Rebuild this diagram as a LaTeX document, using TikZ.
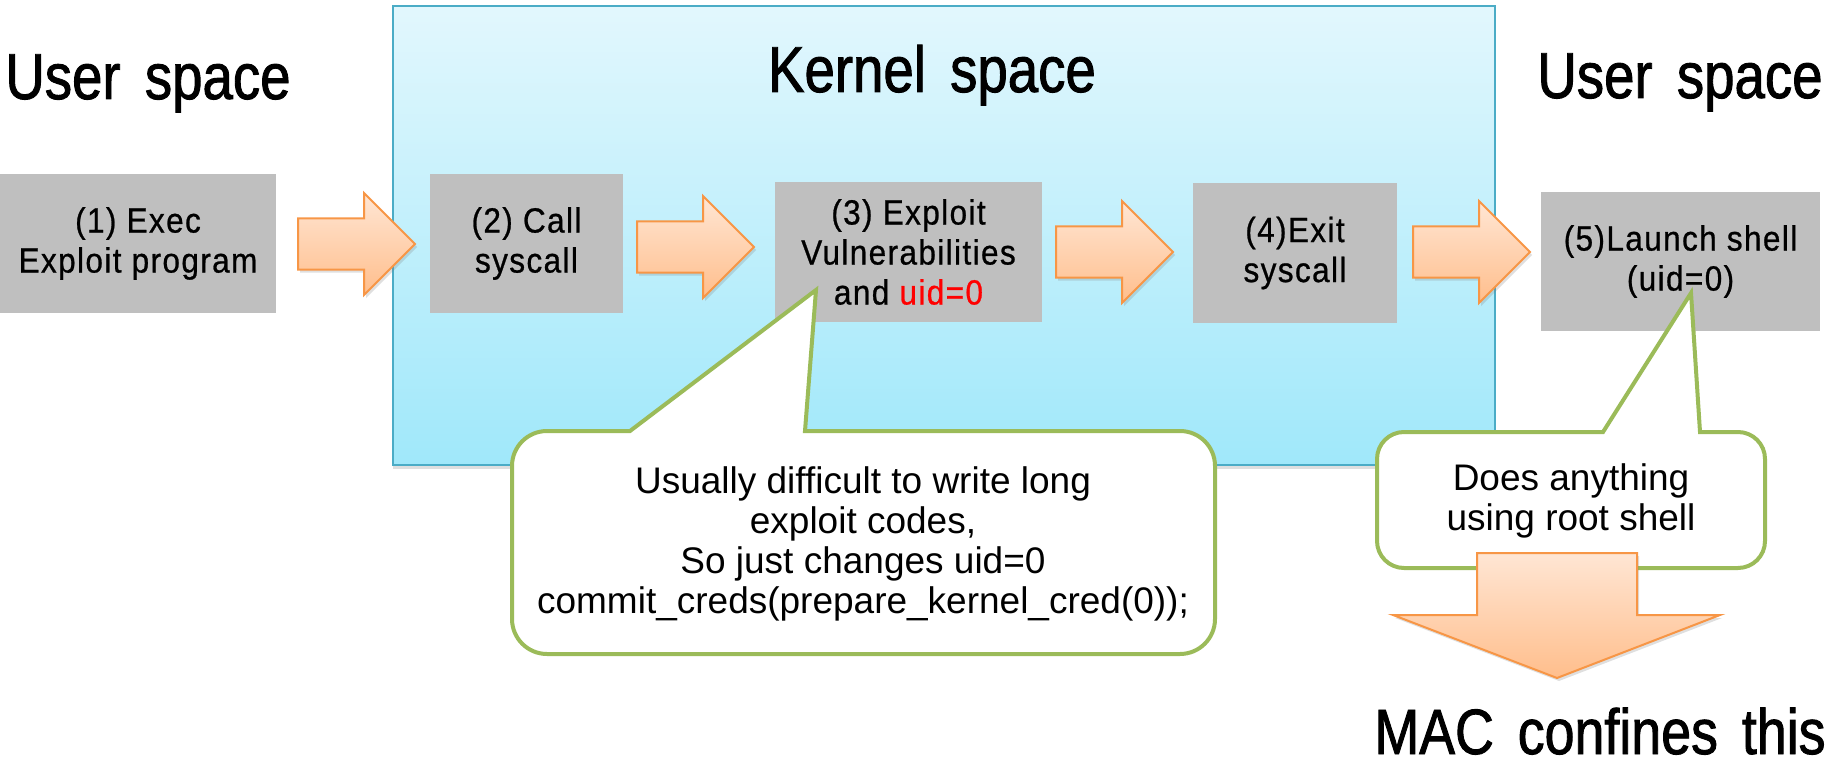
\documentclass[tikz,border=0pt]{standalone}
\usepackage{fontspec}
\setmainfont{Liberation Sans}
\newfontfamily\titlefont[FakeStretch=0.84,WordSpace=1.6,FakeBold=1.4]{Liberation Sans}
\newfontfamily\stepfont[FakeStretch=0.9,LetterSpace=4,FakeBold=0.7]{Liberation Sans}
\usetikzlibrary{shadows}

\definecolor{boxgray}{RGB}{191,191,191}
\definecolor{kerntop}{RGB}{226,247,253}
\definecolor{kernbot}{RGB}{160,232,250}
\definecolor{kernline}{RGB}{75,172,198}
\definecolor{arrline}{RGB}{247,150,70}
\definecolor{arrtop}{RGB}{255,230,212}
\definecolor{arrbot}{RGB}{255,190,140}
\definecolor{callline}{RGB}{155,187,89}
\definecolor{hotred}{RGB}{255,0,0}

% right-pointing block arrow: tail x, tip x, tip y
\newcommand\rightblock[3]{%
  \draw[blockarr] (#1,#3-25.5) -- (#2-51,#3-25.5) -- (#2-51,#3-51) -- (#2,#3)
    -- (#2-51,#3+51) -- (#2-51,#3+25.5) -- (#1,#3+25.5) -- cycle;}

% speech bubble: left, right, top, bottom, corner radius, pointer base left/right, tip coordinate
\newcommand\bubble[8]{%
  \draw[bubbleline] (#6,#3) -- (#8) -- (#7,#3) -- ({#2-#5},#3)
    arc[start angle=90,end angle=0,radius=#5pt] -- (#2,{#4-#5})
    arc[start angle=0,end angle=-90,radius=#5pt] -- ({#1+#5},#4)
    arc[start angle=-90,end angle=-180,radius=#5pt] -- (#1,{#3+#5})
    arc[start angle=180,end angle=90,radius=#5pt] -- cycle;}

\begin{document}
\begin{tikzpicture}[x=1pt,y=-1pt,
  title/.style={font=\titlefont\fontsize{65}{70}\selectfont, inner sep=0pt, anchor=base},
  stepbox/.style={fill=boxgray, inner sep=0pt, align=center,
    font=\stepfont\fontsize{35}{40}\selectfont},
  kernelbox/.style={draw=kernline, line width=2pt, top color=kerntop, bottom color=kernbot,
    inner sep=0pt, drop shadow={shadow xshift=0pt, shadow yshift=-4pt, opacity=0.25}},
  blockarr/.style={draw=arrline, line width=2pt, top color=arrtop, bottom color=arrbot,
    drop shadow={shadow xshift=2pt, shadow yshift=-3pt, opacity=0.25}},
  bubbleline/.style={draw=callline, line width=4pt, fill=white},
  bubbletext/.style={align=center, inner sep=0pt, font=\fontsize{37}{40}\selectfont}]

\useasboundingbox (0,0) rectangle (1843,767);

% kernel region
\node[kernelbox, minimum width=1102pt, minimum height=459pt] (kernel) at (944,235.5) {};

% titles
\node[title] (userL) at (148,99) {User space};
\node[title] (kern) at (932,92) {Kernel space};
\node[title] (userR) at (1680,98) {User space};

% steps
\node[stepbox, minimum width=276pt, minimum height=139pt] (s1) at (138,243.5)
  {(1) Exec\\Exploit program};
\node[stepbox, minimum width=193pt, minimum height=139pt] (s2) at (526.5,243.5)
  {(2) Call\\syscall};
\node[stepbox, minimum width=267pt, minimum height=140pt] (s3) at (908.5,252)
  {(3) Exploit\\Vulnerabilities\\and \textcolor{hotred}{uid=0}};
\node[stepbox, minimum width=204pt, minimum height=140pt] (s4) at (1295,253)
  {(4)Exit\\syscall};
\node[stepbox, minimum width=279pt, minimum height=139pt] (s5) at (1680.5,261.5)
  {(5)Launch shell\\(uid=0)};

% flow arrows
\rightblock{298}{415}{244}
\rightblock{637}{754}{247}
\rightblock{1056}{1173}{252}
\rightblock{1413}{1530}{252}

% pointer tips inside the step boxes
\coordinate (tip3) at (816,290);
\coordinate (tip5) at (1691,293);

% comment bubbles
\bubble{512}{1215}{431}{654}{35}{630}{805}{tip3}
\node[bubbletext] (note3) at (863,544)
  {Usually difficult to write long\\exploit codes,\\So just changes uid=0\\commit\_creds(prepare\_kernel\_cred(0));};

\bubble{1377}{1765}{432}{568}{27}{1603}{1700}{tip5}
\node[bubbletext] (note5) at (1571,501) {Does anything\\using root shell};

% downward arrow and conclusion
\draw[blockarr] (1477,553) -- (1637,553) -- (1637,615) -- (1720,615) -- (1557,678)
  -- (1393,615) -- (1477,615) -- cycle;
\node[title, font=\titlefont\fontsize{64}{68}\selectfont] (mac) at (1600,754) {MAC confines this};

\end{tikzpicture}
\end{document}
